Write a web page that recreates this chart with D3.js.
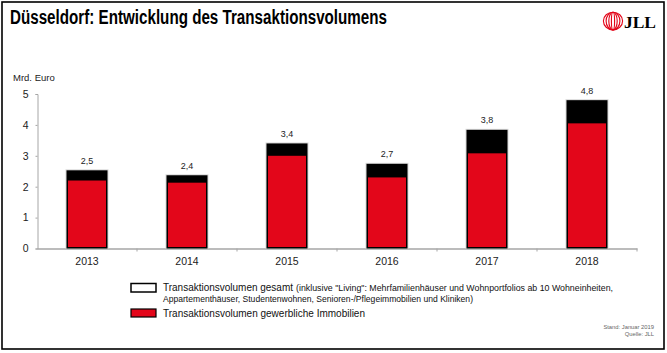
<!DOCTYPE html>
<html>
<head>
<meta charset="utf-8">
<script src="https://cdn.jsdelivr.net/npm/d3@7"></script>
<style>
  body { margin: 0; background: #fff; }
</style>
</head>
<body>
<div id="container"></div>
<script>
/* DATA */
const years = ["2013", "2014", "2015", "2016", "2017", "2018"];
const gewerblich = [2.2, 2.13, 3.0, 2.3, 3.08, 4.05];   // red part
const gesamt = [2.53, 2.37, 3.4, 2.74, 3.84, 4.8];      // total incl. Living
const yTicks = [0, 1, 2, 3, 4, 5];

const width = 667;
const height = 353;
const red = "#e3061a";
const sans = "Liberation Sans, Arial, sans-serif";

const svg = d3.select("#container")
  .append("svg")
  .attr("width", width)
  .attr("height", height)
  .attr("font-family", sans);

// frame
svg.append("rect")
  .attr("x", 2).attr("y", 2)
  .attr("width", 662).attr("height", 347)
  .attr("fill", "none")
  .attr("stroke", "#000")
  .attr("stroke-width", 1.6);

// title
svg.append("text")
  .attr("x", 10).attr("y", 23.5)
  .attr("font-size", 19.5)
  .attr("font-weight", "bold")
  .attr("textLength", 377)
  .attr("lengthAdjust", "spacingAndGlyphs")
  .text("Düsseldorf: Entwicklung des Transaktionsvolumens");

// JLL logo
const logo = svg.append("g").attr("transform", "translate(613, 21)");
[9.6, 6.9, 4.2, 1.6].forEach((rx) => {
  logo.append("ellipse")
    .attr("rx", rx).attr("ry", 8.8)
    .attr("fill", "none")
    .attr("stroke", red)
    .attr("stroke-width", 1.15);
});
svg.append("text")
  .attr("x", 624).attr("y", 28)
  .attr("font-family", "Liberation Serif, serif")
  .attr("font-weight", "bold")
  .attr("font-size", 17)
  .attr("textLength", 32)
  .attr("lengthAdjust", "spacingAndGlyphs")
  .text("JLL");

/* SCALES */
const x = d3.scaleBand()
  .domain(years)
  .range([37, 637])
  .paddingInner(0.59)
  .paddingOuter(0.295);

const y = d3.scaleLinear()
  .domain([0, 5])
  .range([248.5, 94]);

const fmt = d3.formatLocale({ decimal: ",", thousands: ".", grouping: [3], currency: ["", " €"] }).format(".1f");

/* AXES */
const yAxis = svg.append("g")
  .attr("transform", "translate(37.5, 0)")
  .call(d3.axisLeft(y).tickValues(yTicks).tickSize(2).tickPadding(7).tickFormat(d3.format("d")));
yAxis.select(".domain").attr("stroke", "#a6a6a6");
yAxis.selectAll(".tick line").attr("stroke", "#a6a6a6");
yAxis.selectAll(".tick text").attr("font-size", 10.5).attr("fill", "#222")
  .attr("font-family", sans);

const xAxis = svg.append("g")
  .attr("transform", `translate(0, ${y(0)})`)
  .call(d3.axisBottom(x).tickSize(0).tickPadding(9));
xAxis.select(".domain").attr("stroke", "#a6a6a6").attr("stroke-width", 1.5);
xAxis.selectAll(".tick text").attr("font-size", 10.5).attr("fill", "#222")
  .attr("font-family", sans);

// category boundary ticks
xAxis.selectAll(".bound")
  .data(years)
  .join("line")
  .attr("x1", (d) => x(d) + x.bandwidth() / 2 + x.step() / 2)
  .attr("x2", (d) => x(d) + x.bandwidth() / 2 + x.step() / 2)
  .attr("y1", 0).attr("y2", 3)
  .attr("stroke", "#a6a6a6");

svg.append("text")
  .attr("x", 13).attr("y", 81)
  .attr("font-size", 9.5)
  .attr("fill", "#222")
  .text("Mrd. Euro");

/* BARS */
const bars = svg.append("g");
// light halo
bars.selectAll(".halo")
  .data(years)
  .join("rect")
  .attr("x", (d) => x(d) - 1)
  .attr("y", (d, i) => y(gesamt[i]) - 1)
  .attr("width", x.bandwidth() + 2)
  .attr("height", (d, i) => y(0) - y(gesamt[i]) + 1)
  .attr("fill", "#d8d8d8");

bars.selectAll(".total")
  .data(years)
  .join("rect")
  .attr("x", (d) => x(d))
  .attr("y", (d, i) => y(gesamt[i]))
  .attr("width", x.bandwidth())
  .attr("height", (d, i) => y(0) - y(gesamt[i]))
  .attr("fill", "#000");

bars.selectAll(".red")
  .data(years)
  .join("rect")
  .attr("x", (d) => x(d) + 1.5)
  .attr("y", (d, i) => y(gewerblich[i]))
  .attr("width", x.bandwidth() - 3)
  .attr("height", (d, i) => y(0) - y(gewerblich[i]) - 1.5)
  .attr("fill", red);

bars.selectAll(".lbl")
  .data(years)
  .join("text")
  .attr("x", (d) => x(d) + x.bandwidth() / 2)
  .attr("y", (d, i) => y(gesamt[i]) - 6.5)
  .attr("text-anchor", "middle")
  .attr("font-size", 9)
  .attr("fill", "#222")
  .text((d, i) => fmt(gesamt[i]));

/* LEGEND */
const leg = svg.append("g");
leg.append("rect")
  .attr("x", 131).attr("y", 283.5).attr("width", 25).attr("height", 8.5)
  .attr("fill", "#fff").attr("stroke", "#000").attr("stroke-width", 1.5);
leg.append("rect")
  .attr("x", 131).attr("y", 309).attr("width", 25).attr("height", 8)
  .attr("fill", red).attr("stroke", "#000").attr("stroke-width", 1.2);

leg.append("text").attr("x", 163).attr("y", 291).attr("fill", "#111")
  .attr("font-size", 10.5).attr("textLength", 130).attr("lengthAdjust", "spacingAndGlyphs")
  .text("Transaktionsvolumen gesamt");
leg.append("text").attr("x", 296).attr("y", 291).attr("fill", "#111")
  .attr("font-size", 8.6).attr("textLength", 317).attr("lengthAdjust", "spacingAndGlyphs")
  .text("(inklusive \"Living\": Mehrfamilienhäuser und Wohnportfolios ab 10 Wohneinheiten,");
leg.append("text").attr("x", 163).attr("y", 301.5).attr("font-size", 8.6).attr("fill", "#111")
  .attr("textLength", 310).attr("lengthAdjust", "spacingAndGlyphs")
  .text("Appartementhäuser, Studentenwohnen, Senioren-/Pflegeimmobilien und Kliniken)");
leg.append("text").attr("x", 163).attr("y", 317).attr("font-size", 10.5).attr("fill", "#111")
  .attr("textLength", 202).attr("lengthAdjust", "spacingAndGlyphs")
  .text("Transaktionsvolumen gewerbliche Immobilien");

/* SOURCE */
svg.append("text")
  .attr("x", 654).attr("y", 329)
  .attr("text-anchor", "end").attr("font-size", 5.8).attr("fill", "#666")
  .text("Stand: Januar 2019");
svg.append("text")
  .attr("x", 654).attr("y", 336)
  .attr("text-anchor", "end").attr("font-size", 5.8).attr("fill", "#666")
  .text("Quelle: JLL");
</script>
</body>
</html>
